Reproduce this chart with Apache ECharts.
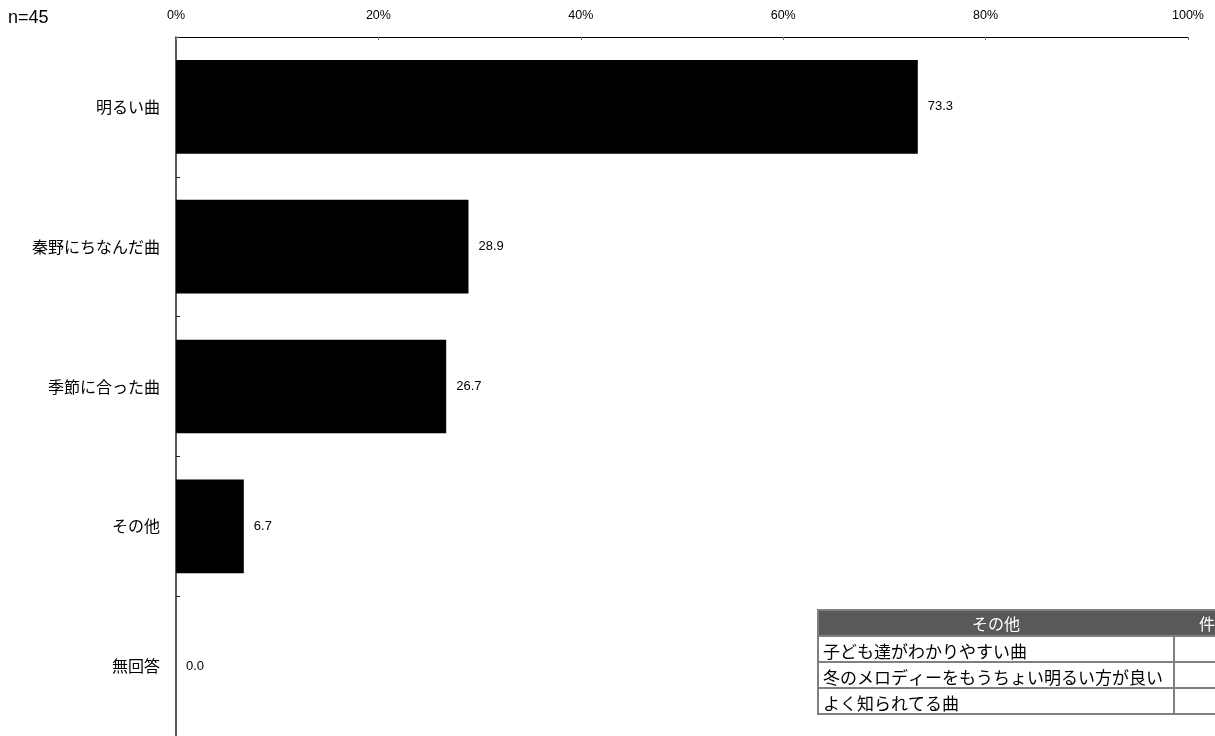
<!DOCTYPE html>
<html>
<head>
<meta charset="utf-8">
<script src="https://cdn.jsdelivr.net/npm/echarts@6/dist/echarts.min.js"></script>
<style>
html,body{margin:0;padding:0;background:#fff;}
#chart{width:1215px;height:736px;}
</style>
</head>
<body>
<div id="chart"></div>
<script>
var categories = ['明るい曲', '秦野にちなんだ曲', '季節に合った曲', 'その他', '無回答'];
var values = [73.3, 28.9, 26.7, 6.7, 0.0];
var axisTicks = [0, 20, 40, 60, 80, 100];
var sampleLabel = 'n=45';
var tableHeader = ['その他', '件数'];
var otherItems = ['子ども達がわかりやすい曲', '冬のメロディーをもうちょい明るい方が良い', 'よく知られてる曲'];

var chart = echarts.init(document.getElementById('chart'));
var jp = '"Noto Sans CJK JP", sans-serif';
var latin = '"Liberation Sans", Arial, sans-serif';

// table graphics (built from the table arrays)
var tx = 818, tw = 356, cw = 82, ty = 610, hh = 26, rh = 26;
var g = [];
g.push({type:'rect', shape:{x:tx, y:ty, width:tw+cw, height:hh}, style:{fill:'#595959', stroke:'#808080', lineWidth:2}});
g.push({type:'text', style:{text:tableHeader[0], x:tx+tw/2, y:ty+hh/2+1, textAlign:'center', textVerticalAlign:'middle', fill:'#fff', font:'16px ' + jp}});
g.push({type:'text', style:{text:tableHeader[1], x:tx+tw+cw/2, y:ty+hh/2+1, textAlign:'center', textVerticalAlign:'middle', fill:'#fff', font:'16px ' + jp}});
otherItems.forEach(function(t, i){
  var y = ty + hh + i*rh;
  g.push({type:'rect', shape:{x:tx, y:y, width:tw, height:rh}, style:{fill:'#fff', stroke:'#808080', lineWidth:2}});
  g.push({type:'rect', shape:{x:tx+tw, y:y, width:cw, height:rh}, style:{fill:'#fff', stroke:'#808080', lineWidth:2}});
  g.push({type:'text', style:{text:t, x:tx+5, y:y+rh/2+3, textAlign:'left', textVerticalAlign:'middle', fill:'#000', font:'17px ' + jp}});
});
g.push({type:'text', style:{text:sampleLabel, x:8, y:18, textAlign:'left', textVerticalAlign:'middle', fill:'#000', font:'18px ' + latin}});

chart.setOption({
  animation: false,
  backgroundColor: '#fff',
  grid: {left: 176, right: 27, top: 37, height: 702, containLabel: false},
  xAxis: {
    type: 'value', position: 'top', min: 0, max: 100, interval: 20,
    axisLine: {show: true, lineStyle: {color: '#000', width: 1}},
    axisTick: {show: true, inside: true, length: 3, lineStyle: {color: '#777'}},
    splitLine: {show: false},
    axisLabel: {margin: 15, color: '#000', fontSize: 12.5, fontFamily: latin,
      formatter: function(v){ return axisTicks.indexOf(v) >= 0 ? v + '%' : ''; }}
  },
  yAxis: {
    type: 'category', data: categories, inverse: true,
    axisLine: {show: true, lineStyle: {color: '#222', width: 1.5}},
    axisTick: {show: true, inside: true, length: 4, lineStyle: {color: '#222'}},
    axisLabel: {margin: 16, color: '#000', fontSize: 16, fontFamily: jp}
  },
  series: [{
    type: 'bar', data: values, barWidth: '67%',
    itemStyle: {color: '#000'},
    label: {show: true, position: 'right', distance: 10, color: '#000', fontSize: 13, fontFamily: latin,
      formatter: function(p){ return p.value.toFixed(1); }}
  }],
  graphic: g
});
</script>
</body>
</html>
